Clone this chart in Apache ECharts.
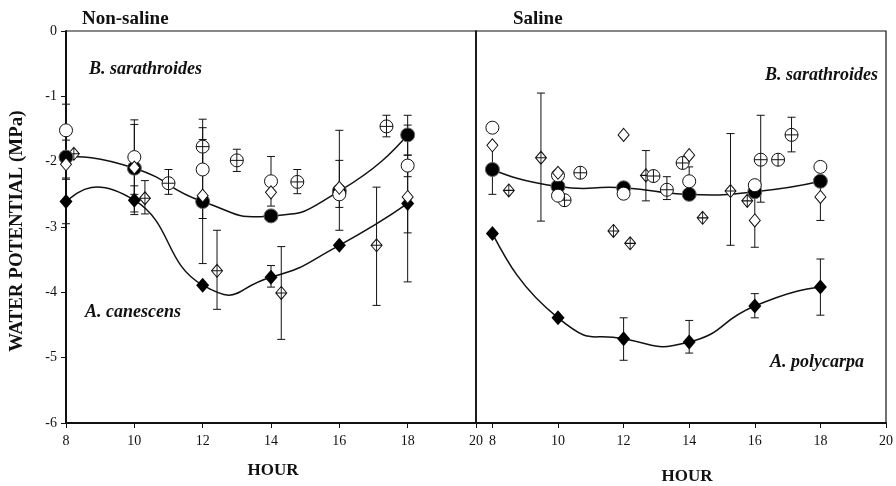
<!DOCTYPE html>
<html>
<head>
<meta charset="utf-8">
<script src="https://cdn.jsdelivr.net/npm/echarts@6/dist/echarts.min.js"></script>
<style>
html,body{margin:0;padding:0;background:#fff;}
#chart{width:896px;height:486px;}
</style>
</head>
<body>
<div id="chart"></div>
<script>
// ---------- DATA ----------
const xTickLabels = [8, 10, 12, 14, 16, 18, 20];
const yTickLabels = [0, -1, -2, -3, -4, -5, -6];
const mainHours = [8, 10, 12, 14, 16, 18];

// Non-saline panel
const nsFilledCircle = [-1.93, -2.10, -2.61, -2.83, -2.45, -1.59];
const nsOpenCircle = [-1.52, -1.93, -2.12, -2.30, -2.50, -2.06];
const nsOpenDiamond = [-2.04, -2.09, -2.52, -2.47, -2.40, -2.54];
const nsFilledDiamond = [-2.61, -2.59, -3.89, -3.77, -3.28, -2.64];
const nsCirclePlusHours = [11.0, 12.0, 13.0, 14.77, 17.38];
const nsCirclePlus = [-2.33, -1.77, -1.98, -2.31, -1.46];
const nsDiamondPlusHours = [8.23, 10.31, 12.42, 14.30, 17.09];
const nsDiamondPlus = [-1.88, -2.56, -3.67, -4.01, -3.28];
// error bars: [hour, low, high]
const nsErrors = [
  [8, -2.25, -1.67], [8, -1.92, -1.12], [8, -2.95, -2.27],
  [10, -2.77, -1.43], [10, -2.50, -1.36], [10, -2.81, -2.37],
  [10.31, -2.80, -2.29], [11.0, -2.50, -2.12],
  [12, -3.56, -1.66], [12, -2.87, -1.35], [12, -2.06, -1.48],
  [12.42, -4.26, -3.05], [13.0, -2.15, -1.81],
  [14, -2.68, -1.92], [14, -3.92, -3.59],
  [14.30, -4.72, -3.30], [14.77, -2.49, -2.12],
  [16, -3.05, -1.98], [16, -2.70, -1.52],
  [17.09, -4.20, -2.39], [17.38, -1.62, -1.29],
  [18, -1.90, -1.29], [18, -2.23, -1.90], [18, -3.84, -1.44], [18, -3.09, -2.00]
];

// Saline panel
const sFilledCircle = [-2.12, -2.38, -2.40, -2.50, -2.46, -2.30];
const sOpenCircleHours = [8, 10, 10, 12, 14, 16, 18];
const sOpenCircle = [-1.48, -2.21, -2.52, -2.49, -2.30, -2.36, -2.08];
const sOpenDiamond = [-1.75, -2.17, -1.59, -1.90, -2.90, -2.54];
const sFilledDiamond = [-3.10, -4.39, -4.71, -4.76, -4.21, -3.92];
const sCirclePlusHours = [10.2, 10.68, 12.91, 13.32, 13.8, 16.18, 16.71, 17.12];
const sCirclePlus = [-2.59, -2.17, -2.22, -2.43, -2.02, -1.97, -1.97, -1.59];
const sDiamondPlusHours = [8.5, 9.48, 11.69, 12.2, 12.68, 14.41, 15.26, 15.77];
const sDiamondPlus = [-2.44, -1.94, -3.06, -3.25, -2.21, -2.86, -2.45, -2.60];
const sErrors = [
  [8, -2.50, -1.75], [9.48, -2.91, -0.95], [12.68, -2.60, -1.83],
  [13.32, -2.58, -2.23], [14, -2.50, -2.08], [15.26, -3.28, -1.57],
  [16.18, -2.62, -1.29], [16, -3.31, -2.49], [17.12, -1.85, -1.32],
  [18, -2.90, -2.30],
  [12, -5.04, -4.39], [14, -4.93, -4.43], [16, -4.39, -4.02], [18, -4.35, -3.49]
];

// ---------- CHART ----------
const FONT = "'Liberation Serif', 'Times New Roman', serif";
const INK = '#111';
const TENSION = 0.28;
const pair = (xs, ys) => xs.map((x, i) => [x, ys[i]]);

const circlePlusPath = 'path://M10,0A10,10,0,1,1,-10,0A10,10,0,1,1,10,0ZM-10,0L10,0M0,-10L0,10';
const diamondPlusPath = 'path://M0,-10L10,0L0,10L-10,0ZM-10,0L10,0M0,-10L0,10';

function errRender(params, api) {
  const x = api.value(0), lo = api.value(1), hi = api.value(2);
  const a = api.coord([x, lo]), b = api.coord([x, hi]);
  const w = 4;
  const st = {stroke: INK, lineWidth: 1};
  return {type: 'group', children: [
    {type: 'line', shape: {x1: a[0], y1: a[1], x2: b[0], y2: b[1]}, style: st},
    {type: 'line', shape: {x1: a[0] - w, y1: a[1], x2: a[0] + w, y2: a[1]}, style: st},
    {type: 'line', shape: {x1: b[0] - w, y1: b[1], x2: b[0] + w, y2: b[1]}, style: st}
  ]};
}

// smoothed curve through the data points (spline computed in pixel space from api.coord)
function curveSeries(idx, xs, ys) {
  return {
    type: 'custom', xAxisIndex: idx, yAxisIndex: idx, data: pair(xs, ys),
    encode: {x: 0, y: 1}, z: 2, silent: true,
    renderItem: function (params, api) {
      if (params.dataIndex !== 0) return null;
      const p = xs.map((x, i) => api.coord([x, ys[i]]));
      const n = p.length;
      const d = p.map((pt, i) => (i === 0 || i === n - 1) ? null :
        [(p[i + 1][0] - p[i - 1][0]) * TENSION, (p[i + 1][1] - p[i - 1][1]) * TENSION]);
      const children = [];
      for (let i = 0; i < n - 1; i++) {
        let c1 = d[i] ? [p[i][0] + d[i][0], p[i][1] + d[i][1]] : null;
        let c2 = d[i + 1] ? [p[i + 1][0] - d[i + 1][0], p[i + 1][1] - d[i + 1][1]] : null;
        if (!c1 && !c2) { c1 = p[i]; c2 = p[i + 1]; }
        if (!c1) c1 = [(p[i][0] + c2[0]) / 2, (p[i][1] + c2[1]) / 2];
        if (!c2) c2 = [(p[i + 1][0] + c1[0]) / 2, (p[i + 1][1] + c1[1]) / 2];
        children.push({type: 'bezierCurve', shape: {
          x1: p[i][0], y1: p[i][1], cpx1: c1[0], cpy1: c1[1],
          cpx2: c2[0], cpy2: c2[1], x2: p[i + 1][0], y2: p[i + 1][1]},
          style: {stroke: INK, lineWidth: 1.5, fill: null}});
      }
      return {type: 'group', children: children};
    }
  };
}

function panelSeries(idx, d) {
  const base = {xAxisIndex: idx, yAxisIndex: idx};
  const open = {color: '#fff', borderColor: INK, borderWidth: 1, opacity: 1};
  return [
    Object.assign({type: 'custom', renderItem: errRender, data: d.err,
      encode: {x: 0, y: [1, 2]}, z: 1, silent: true}, base),
    curveSeries(idx, mainHours, d.fd),
    curveSeries(idx, mainHours, d.fc),
    Object.assign({type: 'scatter', data: pair(d.dpH, d.dp), symbol: diamondPlusPath,
      symbolSize: [11, 13], itemStyle: open, z: 3}, base),
    Object.assign({type: 'scatter', data: pair(d.cpH, d.cp), symbol: circlePlusPath,
      symbolSize: 13, itemStyle: open, z: 3}, base),
    Object.assign({type: 'scatter', data: pair(mainHours, d.fd), symbol: 'diamond',
      symbolSize: [13, 15], itemStyle: {color: '#000', opacity: 1}, z: 4}, base),
    Object.assign({type: 'scatter', data: pair(mainHours, d.fc), symbol: 'circle',
      symbolSize: 14, itemStyle: {color: '#000', borderColor: '#666', borderWidth: 1, opacity: 1}, z: 4}, base),
    Object.assign({type: 'scatter', data: pair(d.ocH, d.oc), symbol: 'circle',
      symbolSize: 13, itemStyle: open, z: 5}, base),
    Object.assign({type: 'scatter', data: pair(mainHours, d.od), symbol: 'diamond',
      symbolSize: [11, 13], itemStyle: open, z: 5}, base)
  ];
}

const xAxisCommon = {
  type: 'value', max: 20,
  axisLine: {show: true, onZero: false, lineStyle: {color: INK, width: 2}},
  axisTick: {show: true, length: 5, lineStyle: {color: INK, width: 1}, customValues: xTickLabels},
  axisLabel: {color: INK, fontFamily: FONT, fontSize: 14, margin: 11, customValues: xTickLabels},
  splitLine: {show: false}
};

const chart = echarts.init(document.getElementById('chart'), null, {renderer: 'canvas'});
chart.setOption({
  backgroundColor: '#fff',
  animation: false,
  grid: [
    {left: 66, top: 31, width: 410, height: 392, show: true, borderColor: INK, borderWidth: 1, backgroundColor: 'transparent'},
    {left: 476, top: 31, width: 410, height: 392, show: true, borderColor: INK, borderWidth: 1.2, backgroundColor: 'transparent'}
  ],
  xAxis: [
    Object.assign({}, xAxisCommon, {gridIndex: 0, min: 8}),
    Object.assign({}, xAxisCommon, {gridIndex: 1, min: 7.5})
  ],
  yAxis: [
    {type: 'value', gridIndex: 0, min: -6, max: 0, interval: 1,
      axisLine: {show: true, onZero: false, lineStyle: {color: INK, width: 2}},
      axisTick: {show: true, length: 5, lineStyle: {color: INK, width: 1}},
      axisLabel: {color: INK, fontFamily: FONT, fontSize: 14, margin: 9,
        customValues: yTickLabels},
      splitLine: {show: false}},
    {type: 'value', gridIndex: 1, min: -6, max: 0, interval: 1,
      axisLine: {show: true, onZero: false, lineStyle: {color: INK, width: 1.5}},
      axisTick: {show: false}, axisLabel: {show: false}, splitLine: {show: false}}
  ],
  series: [].concat(
    panelSeries(0, {err: nsErrors, dpH: nsDiamondPlusHours, dp: nsDiamondPlus,
      cpH: nsCirclePlusHours, cp: nsCirclePlus, fd: nsFilledDiamond, fc: nsFilledCircle,
      ocH: mainHours, oc: nsOpenCircle, od: nsOpenDiamond}),
    panelSeries(1, {err: sErrors, dpH: sDiamondPlusHours, dp: sDiamondPlus,
      cpH: sCirclePlusHours, cp: sCirclePlus, fd: sFilledDiamond, fc: sFilledCircle,
      ocH: sOpenCircleHours, oc: sOpenCircle, od: sOpenDiamond})
  ),
  graphic: [
    {type: 'text', x: 82, y: 19, style: {text: 'Non-saline', font: 'bold 19px ' + FONT, fill: INK, textVerticalAlign: 'middle'}},
    {type: 'text', x: 513, y: 19, style: {text: 'Saline', font: 'bold 19px ' + FONT, fill: INK, textVerticalAlign: 'middle'}},
    {type: 'text', x: 89, y: 69, style: {text: 'B. sarathroides', font: 'italic bold 18px ' + FONT, fill: INK, textVerticalAlign: 'middle'}},
    {type: 'text', x: 85, y: 312, style: {text: 'A. canescens', font: 'italic bold 18px ' + FONT, fill: INK, textVerticalAlign: 'middle'}},
    {type: 'text', x: 878, y: 75, style: {text: 'B. sarathroides', font: 'italic bold 18px ' + FONT, fill: INK, textAlign: 'right', textVerticalAlign: 'middle'}},
    {type: 'text', x: 864, y: 362, style: {text: 'A. polycarpa', font: 'italic bold 18px ' + FONT, fill: INK, textAlign: 'right', textVerticalAlign: 'middle'}},
    {type: 'text', x: 273, y: 471, style: {text: 'HOUR', font: 'bold 17px ' + FONT, fill: INK, textAlign: 'center', textVerticalAlign: 'middle'}},
    {type: 'text', x: 687, y: 477, style: {text: 'HOUR', font: 'bold 17px ' + FONT, fill: INK, textAlign: 'center', textVerticalAlign: 'middle'}},
    {type: 'text', x: 17, y: 231, rotation: Math.PI / 2, style: {text: 'WATER POTENTIAL (MPa)', font: 'bold 19px ' + FONT, fill: INK, textAlign: 'center', textVerticalAlign: 'middle'}}
  ]
});
</script>
</body>
</html>
